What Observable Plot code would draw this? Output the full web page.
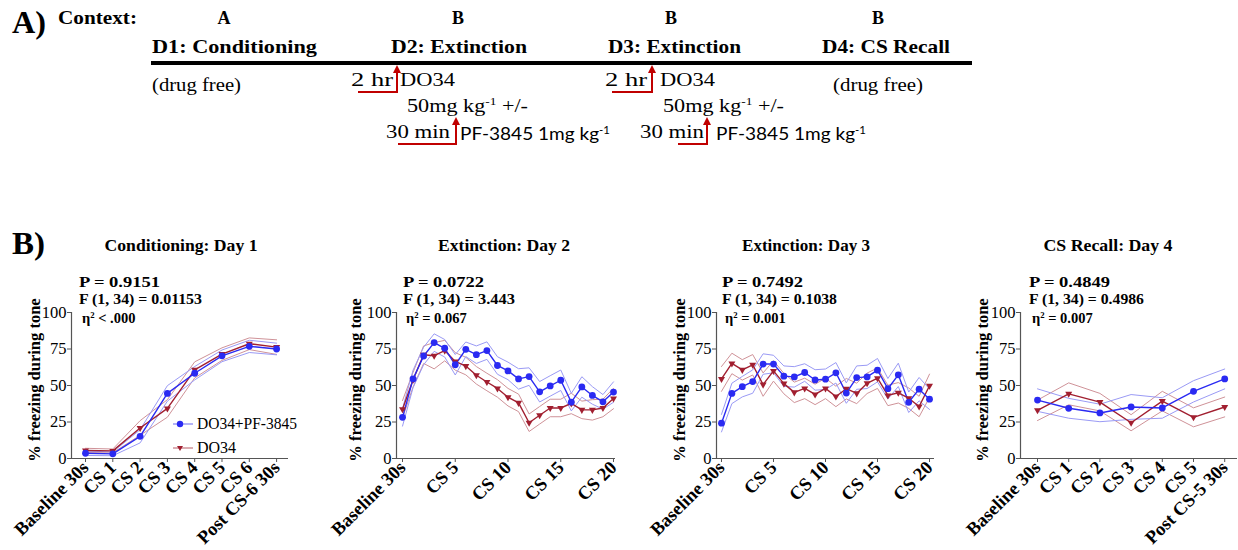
<!DOCTYPE html>
<html><head><meta charset="utf-8">
<script src="https://cdn.jsdelivr.net/npm/d3@7"></script>
<script src="https://cdn.jsdelivr.net/npm/@observablehq/plot@0.6"></script>
<style>
body{margin:0;background:#fff;}
#root{position:relative;width:1238px;height:550px;overflow:hidden;font-family:"Liberation Serif","Times New Roman",serif;color:#000;background:#fff;}
.t{position:absolute;white-space:nowrap;line-height:1;}
.b{font-weight:bold;}
.panel{position:absolute;}
.panel svg{overflow:visible;}
.panel svg text{font-family:"Liberation Serif","Times New Roman",serif !important;}
.panel svg [aria-label="x-axis tick label"] text,.panel svg [aria-label="x-axis tick label"]{font-weight:bold;font-size:18.5px;}
.panel svg [aria-label="y-axis tick label"] text,.panel svg [aria-label="y-axis tick label"]{font-size:16.5px;}
sup{font-size:0.6em;vertical-align:0.6em;line-height:0;}
</style></head>
<body><div id="root"></div>
<script>
// ---------- DATA ----------
const DAY1_LABELS = ["Baseline 30s","CS 1","CS 2","CS 3","CS 4","CS 5","CS 6","Post CS-6 30s"];
const DAY1_COMBO = [3.6, 3.2, 15.2, 44.6, 58.4, 70.3, 76.8, 75.0];
const DAY1_COMBO_SEM = [1.5, 1.3, 4.5, 5.3, 4.6, 4.0, 4.2, 4.0];
const DAY1_DO34 = [5.5, 5.2, 20.9, 34.3, 60.7, 71.5, 78.6, 76.3];
const DAY1_DO34_SEM = [1.5, 1.3, 5.0, 6.0, 5.5, 4.3, 4.0, 5.0];

const EXT_LABELS = ["Baseline 30s"].concat(d3.range(1,21).map(k=>"CS "+k));
const EXT_TICKS = [0,5,10,15,20];
const DAY2_COMBO = [28.2,54.5,70.2,79.4,75.5,64.2,74.8,71.1,73.9,63.7,60.0,54.5,56.1,45.7,49.7,53.6,38.6,49.0,43.2,38.8,45.5];
const DAY2_COMBO_SEM = [6,6,6,6,6,7,5,6,6,6,6,7,6,7,7,7,6,7,6,5,7];
const DAY2_DO34 = [33.7,54.0,71.1,70.4,73.9,66.5,63.3,57.0,52.4,48.0,42.0,38.1,24.5,29.6,34.6,34.6,37.7,33.3,33.3,34.6,41.1];
const DAY2_DO34_SEM = [6,5,6,9,7,6,6,6,6,6,6,6,6,6,6,6,7,6,7,6,7];

const DAY3_COMBO = [24.2,44.6,49.2,52.7,64.7,64.7,56.4,55.9,58.9,53.8,54.3,58.7,44.8,55.4,55.9,60.5,47.8,57.3,38.5,47.5,40.6];
const DAY3_COMBO_SEM = [6,7,7,8,7,6,7,7,6,7,7,7,7,8,8,8,7,8,7,8,7];
const DAY3_DO34 = [54.5,65.1,60.7,64.2,50.6,60.0,51.3,45.3,48.0,43.9,48.0,42.5,47.8,44.6,51.5,55.0,43.2,45.0,41.3,35.6,49.8];
const DAY3_DO34_SEM = [8.5,7,7,7,8,7,7,7,7,7,7,7,7,7,7,7,7,7,7,7,8];

const DAY4_LABELS = ["Baseline 30s","CS 1","CS 2","CS 3","CS 4","CS 5","Post CS-5 30s"];
const DAY4_COMBO = [40.0,34.4,31.2,35.3,34.6,46.0,54.5];
const DAY4_COMBO_SEM = [7.7,6.8,6.0,8.5,7.0,7.3,6.8];
const DAY4_DO34 = [33.0,44.3,38.6,24.5,39.3,28.2,35.3];
const DAY4_DO34_SEM = [7.0,7.5,6.0,5.5,6.7,6.5,6.8];

const Y_TICKS = [0,25,50,75,100];
const SERIES_NAMES = ["DO34+PF-3845","DO34"];

// ---------- STYLE ----------
const BLUE = "#2a2af2", BLUE_L = "#9a9af5";
const RED = "#a11f30", RED_L = "#cf9298";
const AXIS = "#555";
const root = document.getElementById("root");

function txt(html, x, y, size, {bold=false, anchor="start", family=null, fit=null}={}){
  const d = document.createElement("div");
  d.className = "t" + (bold ? " b" : "");
  d.style.left = x + "px"; d.style.top = y + "px"; d.style.fontSize = size + "px";
  if (family) d.style.fontFamily = family;
  const tr = anchor === "middle" ? "translate(-50%,-50%)" : "translate(0,-50%)";
  d.style.transformOrigin = anchor === "middle" ? "50% 50%" : "0 50%";
  d.style.transform = tr;
  d.innerHTML = html;
  root.appendChild(d);
  if (fit) {
    const w = d.getBoundingClientRect().width;
    d.style.transform = tr + ` scaleX(${fit / w})`;
  }
  return d;
}
function vtxt(html, x, y, size){
  const d = document.createElement("div");
  d.className = "t b";
  d.style.left = x + "px"; d.style.top = y + "px"; d.style.fontSize = size + "px";
  d.style.transform = "translate(-50%,-50%) rotate(-90deg)";
  d.innerHTML = html;
  root.appendChild(d);
}

// ---------- PART A ----------
txt("A)", 12, 22, 31, {bold:true, fit:34});
txt("Context:", 58, 18, 18, {bold:true, fit:79});
txt("A", 224, 18, 18, {bold:true, anchor:"middle"});
txt("B", 458, 18, 18, {bold:true, anchor:"middle"});
txt("B", 671, 18, 18, {bold:true, anchor:"middle"});
txt("B", 878, 18, 18, {bold:true, anchor:"middle"});
txt("D1: Conditioning", 152, 47, 19.5, {bold:true, fit:165});
txt("D2: Extinction", 391, 47, 19.5, {bold:true, fit:136});
txt("D3: Extinction", 608, 47, 19.5, {bold:true, fit:133});
txt("D4: CS Recall", 822, 47, 19.5, {bold:true, fit:128});
txt("(drug free)", 152, 84, 19, {fit:89});
txt("(drug free)", 833, 84, 19, {fit:90});
const SANS = "Lato, 'Open Sans', sans-serif";
[[351,400,407,386,460],[605,660,663,640,716]].forEach(([a,b,c,d,e])=>{
  txt("2 hr", a, 79, 19, {fit:42});
  txt("DO34", b, 79, 19, {fit:55});
  txt("50mg kg<sup>-1</sup> +/-", c, 105, 19, {fit:121});
  txt("30 min", d, 131, 19, {fit:64});
  txt("PF-3845 1mg kg<sup>-1</sup>", e, 133, 18, {family:SANS, fit:150});
});
const svgA = document.createElementNS("http://www.w3.org/2000/svg","svg");
svgA.setAttribute("width",1238); svgA.setAttribute("height",550);
svgA.style.position="absolute"; svgA.style.left="0"; svgA.style.top="0"; svgA.style.pointerEvents="none";
svgA.innerHTML = `
<line x1="151" y1="63" x2="972" y2="63" stroke="#000" stroke-width="4"/>
${[[358,397,92,72],[398,456,144,124],[612,652,92,72],[678,707,144,124]].map(([x1,x2,y1,y2])=>`
<polyline points="${x1},${y1} ${x2},${y1} ${x2},${y2}" fill="none" stroke="#c00000" stroke-width="2"/>
<polygon points="${x2-4},${y2+1} ${x2+4},${y2+1} ${x2},${y2-7}" fill="#c00000"/>`).join("")}
`;
root.appendChild(svgA);

// ---------- PART B ----------
txt("B)", 12, 243, 31, {bold:true, fit:33});

function panel(cfg){
  const mk = (arr, sem) => arr.map((m,i)=>({i, m, s: sem[i]}));
  const blue = mk(cfg.blue, cfg.blueSem), red = mk(cfg.red, cfg.redSem);
  const ml = 60, mr = 1, mt = 12, mb = 92, top = 300;
  const left = cfg.axisX - ml;
  const width = cfg.axisEnd - left + mr;
  const p = Plot.plot({
    width, height: 250, marginLeft: ml, marginRight: mr, marginTop: mt, marginBottom: mb,
    style: {fontFamily: "'Liberation Serif','Times New Roman',serif", fontSize: "16px", background: "none", overflow: "visible", color:"#000"},
    x: {type: "linear", domain: cfg.xDomain},
    y: {domain: [0, 100]},
    marks: [
      Plot.ruleY([0], {stroke: AXIS, strokeWidth: 1.2}),
      Plot.ruleX([cfg.xDomain[0]], {stroke: AXIS, strokeWidth: 1.2}),
      Plot.axisY({ticks: Y_TICKS, tickSize: 4, tickPadding: 1, stroke: AXIS, label: null}),
      Plot.axisX({ticks: cfg.ticks, tickFormat: i => cfg.labels[i], tickRotate: -45, tickSize: 4, tickPadding: 2, stroke: AXIS, label: null}),
      Plot.line(red, {x: "i", y: d => d.m + d.s, stroke: RED_L, strokeWidth: 1}),
      Plot.line(red, {x: "i", y: d => d.m - d.s, stroke: RED_L, strokeWidth: 1}),
      Plot.line(blue, {x: "i", y: d => d.m + d.s, stroke: BLUE_L, strokeWidth: 1}),
      Plot.line(blue, {x: "i", y: d => d.m - d.s, stroke: BLUE_L, strokeWidth: 1}),
      Plot.line(red, {x: "i", y: "m", stroke: RED, strokeWidth: 1.4}),
      Plot.line(blue, {x: "i", y: "m", stroke: BLUE, strokeWidth: 1.4}),
      Plot.dot(red, {x: "i", y: "m", symbol: "triangle", rotate: 180, r: 2.6, fill: RED, stroke: "none"}),
      Plot.dot(blue, {x: "i", y: "m", r: 3.4, fill: BLUE, stroke: "none"})
    ]
  });
  const wrap = document.createElement("div");
  wrap.className = "panel";
  wrap.style.left = left + "px"; wrap.style.top = top + "px";
  wrap.appendChild(p);
  root.appendChild(wrap);
  // title, stats, y label
  txt(cfg.title, cfg.titleX, 245, 17, {bold:true, anchor:"middle", fit:cfg.titleW});
  txt(cfg.stats[0], cfg.statX, 282, 14.5, {bold:true, fit:cfg.statW[0]});
  txt(cfg.stats[1], cfg.statX, 299, 14.5, {bold:true, fit:cfg.statW[1]});
  txt(cfg.stats[2], cfg.statX + 3, 318, 14.5, {bold:true});
  vtxt("% freezing during tone", cfg.labelX, 380, 16.5);
}

panel({title:"Conditioning: Day 1", titleX:181, titleW:153, statX:79, statW:[81,123], labelX:35,
  stats:["P = 0.9151","F (1, 34) = 0.01153","η<sup>2</sup> &lt; .000"],
  axisX:71, axisEnd:288, xDomain:[-0.513, 7.436], labels:DAY1_LABELS, ticks:d3.range(DAY1_LABELS.length),
  blue:DAY1_COMBO, blueSem:DAY1_COMBO_SEM, red:DAY1_DO34, redSem:DAY1_DO34_SEM});
panel({title:"Extinction: Day 2", titleX:504, titleW:132, statX:403, statW:[81,112], labelX:356,
  stats:["P = 0.0722","F (1, 34) = 3.443","η<sup>2</sup> = 0.067"],
  axisX:396, axisEnd:615, xDomain:[-0.57, 20.19], labels:EXT_LABELS, ticks:EXT_TICKS,
  blue:DAY2_COMBO, blueSem:DAY2_COMBO_SEM, red:DAY2_DO34, redSem:DAY2_DO34_SEM});
panel({title:"Extinction: Day 3", titleX:806, titleW:128, statX:722, statW:[81,115], labelX:680,
  stats:["P = 0.7492","F (1, 34) = 0.1038","η<sup>2</sup> = 0.001"],
  axisX:716, axisEnd:934, xDomain:[-0.48, 20.48], labels:EXT_LABELS, ticks:EXT_TICKS,
  blue:DAY3_COMBO, blueSem:DAY3_COMBO_SEM, red:DAY3_DO34, redSem:DAY3_DO34_SEM});
panel({title:"CS Recall: Day 4", titleX:1108, titleW:129, statX:1029, statW:[81,115], labelX:983,
  stats:["P = 0.4849","F (1, 34) = 0.4986","η<sup>2</sup> = 0.007"],
  axisX:1020, axisEnd:1237, xDomain:[-0.545, 6.41], labels:DAY4_LABELS, ticks:d3.range(DAY4_LABELS.length),
  blue:DAY4_COMBO, blueSem:DAY4_COMBO_SEM, red:DAY4_DO34, redSem:DAY4_DO34_SEM});

// legend (panel 1)
const leg = document.createElementNS("http://www.w3.org/2000/svg","svg");
leg.setAttribute("width",40); leg.setAttribute("height",40);
leg.style.position="absolute"; leg.style.left="170px"; leg.style.top="414px";
leg.innerHTML = `<line x1="3" y1="10" x2="23" y2="10" stroke="${BLUE_L}" stroke-width="1.5"/><circle cx="10" cy="10" r="3.2" fill="${BLUE}"/>
<line x1="3" y1="34" x2="23" y2="34" stroke="${RED_L}" stroke-width="1.5"/><polygon points="7,32 13,32 10,37" fill="${RED}"/>`;
root.appendChild(leg);
txt(SERIES_NAMES[0], 197, 424, 16, {fit:100});
txt(SERIES_NAMES[1], 197, 448, 16);
</script></body></html>
